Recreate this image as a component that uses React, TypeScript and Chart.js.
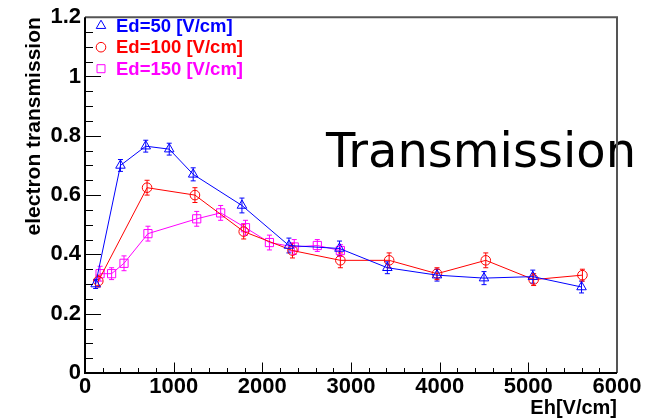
import React, { useEffect, useRef } from "react";
import { Chart, registerables } from "chart.js";

Chart.register(...registerables);

// ---- data ----
const seriesLabels = ["Ed=50 [V/cm]", "Ed=100 [V/cm]", "Ed=150 [V/cm]"];
const seriesColors = ["#0000ff", "#ff0000", "#ff00ff"];

const blueX = [120, 400, 685, 950, 1220, 1770, 2300, 2870, 3410, 3970, 4500, 5050, 5600];
const blueY = [0.30, 0.70, 0.765, 0.755, 0.67, 0.565, 0.43, 0.42, 0.355, 0.33, 0.32, 0.325, 0.29];
const blueErr = [0.015, 0.02, 0.02, 0.02, 0.022, 0.025, 0.025, 0.025, 0.02, 0.02, 0.022, 0.022, 0.02];

const redX = [150, 700, 1240, 1790, 2340, 2880, 3430, 3970, 4520, 5060, 5610];
const redY = [0.31, 0.625, 0.60, 0.477, 0.413, 0.38, 0.38, 0.335, 0.38, 0.315, 0.33];
const redErr = [0.02, 0.025, 0.025, 0.025, 0.025, 0.025, 0.025, 0.02, 0.025, 0.02, 0.02];

const magX = [170, 300, 440, 710, 1260, 1530, 1810, 2080, 2360, 2620, 2880];
const magY = [0.335, 0.335, 0.37, 0.47, 0.52, 0.54, 0.49, 0.44, 0.425, 0.43, 0.413];
const magErr = [0.025, 0.02, 0.025, 0.025, 0.025, 0.025, 0.025, 0.025, 0.025, 0.02, 0.02];

const xTickLabels = ["0", "1000", "2000", "3000", "4000", "5000", "6000"];
const yTickLabels = ["0", "0.2", "0.4", "0.6", "0.8", "1", "1.2"];

const xTitle = "Eh[V/cm]";
const yTitle = "electron transmission";
const overlayText = "Transmission";

const FONT = "'Liberation Sans', Arial, Helvetica, sans-serif";

const xs = [blueX, redX, magX];
const ys = [blueY, redY, magY];
const errs = [blueErr, redErr, magErr];
const styles = ["triangle", "circle", "rect"];
const radii = [5.5, 4.8, 5.8];

function drawMarker(ctx: CanvasRenderingContext2D, style: string, x: number, y: number, color: string) {
  ctx.save();
  ctx.strokeStyle = color;
  ctx.lineWidth = 1;
  ctx.beginPath();
  if (style === "triangle") {
    const r = 5.5;
    ctx.moveTo(x, y - r);
    ctx.lineTo(x + r * 0.866, y + r * 0.5);
    ctx.lineTo(x - r * 0.866, y + r * 0.5);
    ctx.closePath();
  } else if (style === "circle") {
    ctx.arc(x, y, 4.8, 0, Math.PI * 2);
  } else {
    ctx.rect(x - 4, y - 4, 8, 8);
  }
  ctx.stroke();
  ctx.restore();
}

const rootPlugin = {
  id: "rootStyle",
  beforeDatasetsDraw(chart: any) {
    const ctx: CanvasRenderingContext2D = chart.ctx;
    const xs_ = chart.scales.x;
    const ys_ = chart.scales.y;
    // error bars
    chart.data.datasets.forEach((ds: any, di: number) => {
      const e = errs[di];
      ctx.save();
      ctx.strokeStyle = seriesColors[di];
      ctx.lineWidth = 1;
      ds.data.forEach((p: any, i: number) => {
        const px = xs_.getPixelForValue(p.x);
        const top = ys_.getPixelForValue(p.y + e[i]);
        const bot = ys_.getPixelForValue(p.y - e[i]);
        ctx.beginPath();
        ctx.moveTo(px, top);
        ctx.lineTo(px, bot);
        ctx.moveTo(px - 2.5, top);
        ctx.lineTo(px + 2.5, top);
        ctx.moveTo(px - 2.5, bot);
        ctx.lineTo(px + 2.5, bot);
        ctx.stroke();
      });
      ctx.restore();
    });
  },
  afterDraw(chart: any) {
    const ctx: CanvasRenderingContext2D = chart.ctx;
    const area = chart.chartArea;
    const xs_ = chart.scales.x;
    const ys_ = chart.scales.y;

    // big overlay text
    ctx.save();
    ctx.fillStyle = "#000";
    ctx.font = "48px 'DejaVu Sans', sans-serif";
    ctx.textBaseline = "alphabetic";
    ctx.textAlign = "left";
    ctx.fillText(overlayText, 326, 167);
    ctx.restore();

    // legend
    chart.data.datasets.forEach((ds: any, di: number) => {
      const yy = area.top + 8.5 + di * 21.5;
      drawMarker(ctx, styles[di], 101, yy, seriesColors[di]);
      ctx.save();
      ctx.fillStyle = seriesColors[di];
      ctx.font = "bold 18.5px " + FONT;
      ctx.textBaseline = "middle";
      ctx.textAlign = "left";
      ctx.fillText(ds.label, 116, yy + 1);
      ctx.restore();
    });

    // ticks (inward)
    ctx.save();
    ctx.strokeStyle = "#000";
    ctx.lineWidth = 1;
    ctx.beginPath();
    for (let k = 0; k <= 24; k++) {
      const v = k * 0.05;
      const py = Math.round(ys_.getPixelForValue(v)) + 0.5;
      const len = k % 4 === 0 ? 16 : 8;
      ctx.moveTo(area.left, py);
      ctx.lineTo(area.left + len, py);
    }
    for (let k = 0; k <= 30; k++) {
      const v = k * 200;
      const px = Math.round(xs_.getPixelForValue(v)) + 0.5;
      const len = k % 5 === 0 ? 10.5 : 5;
      ctx.moveTo(px, area.bottom);
      ctx.lineTo(px, area.bottom - len);
    }
    ctx.stroke();
    ctx.restore();

    // frame
    ctx.save();
    ctx.lineWidth = 2;
    ctx.strokeStyle = "#555";
    ctx.beginPath();
    ctx.moveTo(area.left, area.top);
    ctx.lineTo(area.right, area.top);
    ctx.lineTo(area.right, area.bottom);
    ctx.stroke();
    ctx.strokeStyle = "#000";
    ctx.beginPath();
    ctx.moveTo(area.left, area.top);
    ctx.lineTo(area.left, area.bottom);
    ctx.lineTo(area.right, area.bottom);
    ctx.stroke();
    ctx.restore();
  },
};

export default function App() {
  const canvasRef = useRef<HTMLCanvasElement | null>(null);

  useEffect(() => {
    if (!canvasRef.current) return;
    const datasets = seriesLabels.map((label, di) => ({
      label,
      data: xs[di].map((x, i) => ({ x, y: ys[di][i] })),
      borderColor: seriesColors[di],
      backgroundColor: "rgba(0,0,0,0)",
      borderWidth: 1,
      pointStyle: styles[di],
      pointRadius: radii[di],
      pointBorderWidth: 1,
      pointBorderColor: seriesColors[di],
      pointBackgroundColor: "rgba(0,0,0,0)",
      showLine: true,
      tension: 0,
      clip: false as any,
    }));

    const chart = new Chart(canvasRef.current, {
      type: "scatter",
      data: { datasets },
      plugins: [rootPlugin],
      options: {
        animation: false,
        responsive: false,
        layout: { padding: { left: 0, right: 33, top: 15, bottom: 0 } },
        plugins: { legend: { display: false }, tooltip: { enabled: false } },
        scales: {
          x: {
            type: "linear",
            min: 0,
            max: 6000,
            grid: { display: false, drawTicks: false },
            border: { display: false },
            afterFit: (s: any) => { s.height = 47; },
            ticks: {
              stepSize: 1000,
              padding: 1,
              color: "#000",
              font: { family: FONT, size: 22, weight: "bold" },
              maxRotation: 0,
              callback: (_v: any, i: number) => xTickLabels[i],
            },
            title: {
              display: true,
              text: xTitle,
              align: "end",
              color: "#000",
              padding: { top: 0, bottom: 0 },
              font: { family: FONT, size: 20, weight: "bold" },
            },
          },
          y: {
            type: "linear",
            min: 0,
            max: 1.2,
            grid: { display: false, drawTicks: false },
            border: { display: false },
            afterFit: (s: any) => { s.width = 85; },
            ticks: {
              stepSize: 0.2,
              padding: 4,
              color: "#000",
              font: { family: FONT, size: 22, weight: "bold" },
              callback: (_v: any, i: number) => yTickLabels[i],
            },
            title: {
              display: true,
              text: yTitle,
              align: "end",
              color: "#000",
              padding: { top: 22, bottom: 0 },
              font: { family: FONT, size: 21, weight: "bold" },
            },
          },
        },
      } as any,
    });
    return () => chart.destroy();
  }, []);

  return (
    <div style={{ position: "absolute", left: 0, top: 0, width: 650, height: 420, background: "#fff" }}>
      <canvas ref={canvasRef} width={650} height={420} />
    </div>
  );
}
